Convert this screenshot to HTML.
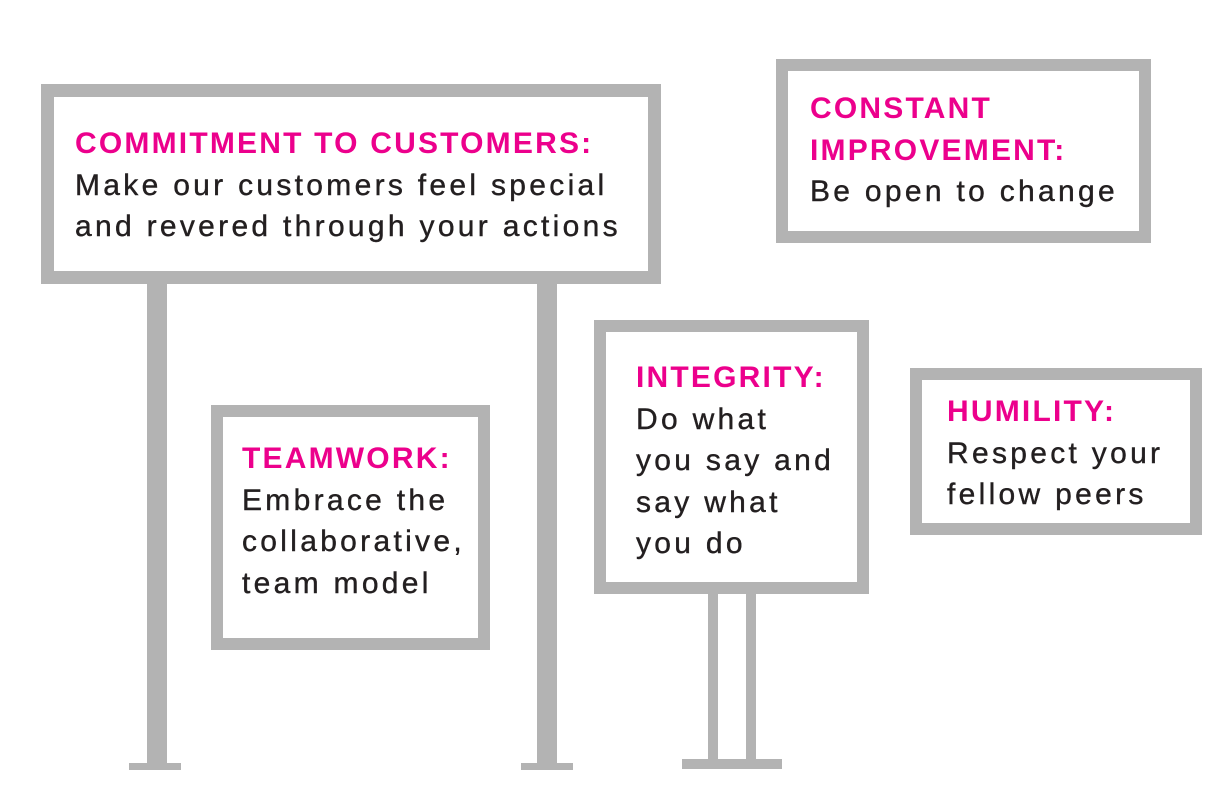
<!DOCTYPE html>
<html><head><style>
body{margin:0;width:1224px;height:798px;background:#fff;position:relative;overflow:hidden;font-family:"Liberation Sans",sans-serif}
.b{position:absolute;border:12px solid #b3b3b3;background:#fff;box-sizing:border-box}
.p{position:absolute;background:#b3b3b3}
.t{position:absolute;font-size:30px;line-height:41.5px;color:#231f20;white-space:nowrap;letter-spacing:3.3px;-webkit-text-stroke:0.4px #231f20}
.t b{color:#ec008c;font-weight:bold;letter-spacing:2.2px;-webkit-text-stroke:0}
</style></head><body>
<div class="p" style="left:147px;top:280px;width:20px;height:486px"></div>
<div class="p" style="left:129px;top:763px;width:52px;height:7px"></div>
<div class="p" style="left:537px;top:280px;width:20px;height:486px"></div>
<div class="p" style="left:521px;top:763px;width:52px;height:7px"></div>
<div class="p" style="left:708px;top:590px;width:10px;height:172px"></div>
<div class="p" style="left:746px;top:590px;width:10px;height:172px"></div>
<div class="p" style="left:682px;top:759px;width:100px;height:10px"></div>
<div class="b" style="left:41px;top:84px;width:620px;height:200px;border-width:13px"></div>
<div class="b" style="left:776px;top:59px;width:375px;height:184px"></div>
<div class="b" style="left:594px;top:320px;width:275px;height:274px"></div>
<div class="b" style="left:211px;top:405px;width:279px;height:245px"></div>
<div class="b" style="left:910px;top:368px;width:292px;height:167px"></div>
<div class="t" style="left:75px;top:123px"><b>COMMITMENT TO CUSTOMERS:</b><br>Make our customers feel special<br>and revered through your actions</div>
<div class="t" style="left:810px;top:88px"><b>CONSTANT</b><br><b>IMPROVEMENT:</b><br>Be open to change</div>
<div class="t" style="left:636px;top:357px"><b>INTEGRITY:</b><br>Do what<br>you say and<br>say what<br>you do</div>
<div class="t" style="left:242px;top:438px"><b>TEAMWORK:</b><br>Embrace the<br>collaborative,<br>team model</div>
<div class="t" style="left:947px;top:391px"><b>HUMILITY:</b><br>Respect your<br>fellow peers</div>
</body></html>
